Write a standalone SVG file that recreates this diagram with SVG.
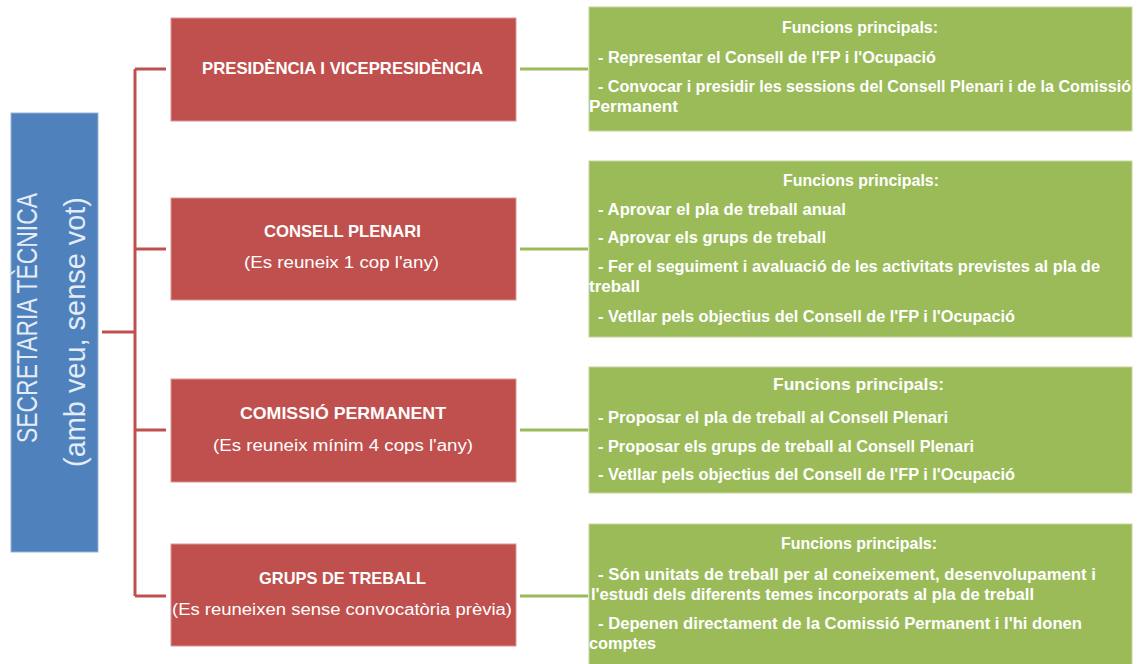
<svg xmlns="http://www.w3.org/2000/svg" width="1137" height="664" viewBox="0 0 1137 664">
<style>
.red{fill:#C0504D;stroke:#D99694;stroke-width:1}
.green{fill:#9BBB59;stroke:#C3D69B;stroke-width:1}
.blue{fill:#4F81BD;stroke:#95B3D7;stroke-width:1}
.h{font-family:"Liberation Sans",Arial,sans-serif;font-weight:bold;font-size:17px;fill:#fff}
.s{font-family:"Liberation Sans",Arial,sans-serif;font-size:16px;fill:#fff}
.g{font-family:"Liberation Sans",Arial,sans-serif;font-weight:bold;font-size:16px;fill:#fff}
.v{font-family:"Liberation Sans",Arial,sans-serif;font-size:29px;fill:#E4ECF7}
.rc{fill:none;stroke:#C0504D;stroke-width:3}
.gc{fill:none;stroke:#9BBB59;stroke-width:3}
</style>
<rect width="1137" height="664" fill="#fff"/>
<g id="connectors">
<path class="rc" d="M102,332 H135 M135,69 V596 M135,69 H166 M135,249 H166 M135,430 H166 M135,596 H166"/>
<path class="gc" d="M520,69 H588 M520,249 H588 M520,430 H588 M520,596 H588"/>
</g>
<g id="secretaria">
<rect class="blue" x="11" y="113" width="87" height="439"/>
<text class="v" transform="translate(37,318) rotate(-90)" text-anchor="middle" textLength="250" lengthAdjust="spacingAndGlyphs">SECRETARIA TÈCNICA</text>
<text class="v" transform="translate(85,332) rotate(-90)" text-anchor="middle" textLength="270" lengthAdjust="spacingAndGlyphs">(amb veu, sense vot)</text>
</g>
<g id="presidencia">
<rect class="red" x="171" y="18" width="345" height="103"/>
<text class="h" x="202" y="74" textLength="281" lengthAdjust="spacingAndGlyphs">PRESIDÈNCIA I VICEPRESIDÈNCIA</text>
</g>
<g id="consell-plenari">
<rect class="red" x="171" y="198" width="345" height="102"/>
<text class="h" x="264" y="237" textLength="157" lengthAdjust="spacingAndGlyphs">CONSELL PLENARI</text>
<text class="s" x="244" y="268" textLength="195" lengthAdjust="spacingAndGlyphs">(Es reuneix 1 cop l'any)</text>
</g>
<g id="comissio-permanent">
<rect class="red" x="171" y="379" width="345" height="103"/>
<text class="h" x="240" y="419" textLength="206" lengthAdjust="spacingAndGlyphs">COMISSIÓ PERMANENT</text>
<text class="s" x="213" y="451" textLength="260" lengthAdjust="spacingAndGlyphs">(Es reuneix mínim 4 cops l'any)</text>
</g>
<g id="grups-treball">
<rect class="red" x="171" y="544" width="345" height="102"/>
<text class="h" x="259" y="584" textLength="167" lengthAdjust="spacingAndGlyphs">GRUPS DE TREBALL</text>
<text class="s" x="172" y="615" textLength="340" lengthAdjust="spacingAndGlyphs">(Es reuneixen sense convocatòria prèvia)</text>
</g>
<g id="funcions-presidencia">
<rect class="green" x="589" y="7" width="543" height="124"/>
<text class="g" x="782" y="33" textLength="156" lengthAdjust="spacingAndGlyphs">Funcions principals:</text>
<text class="g" x="598" y="63" textLength="338" lengthAdjust="spacingAndGlyphs">- Representar el Consell de l'FP i l'Ocupació</text>
<text class="g" x="598" y="92" textLength="533" lengthAdjust="spacingAndGlyphs">- Convocar i presidir les sessions del Consell Plenari i de la Comissió</text>
<text class="g" x="589" y="112" textLength="89" lengthAdjust="spacingAndGlyphs">Permanent</text>
</g>
<g id="funcions-plenari">
<rect class="green" x="589" y="161" width="543" height="176"/>
<text class="g" x="783" y="186" textLength="156" lengthAdjust="spacingAndGlyphs">Funcions principals:</text>
<text class="g" x="598" y="215" textLength="248" lengthAdjust="spacingAndGlyphs">- Aprovar el pla de treball anual</text>
<text class="g" x="598" y="243" textLength="228" lengthAdjust="spacingAndGlyphs">- Aprovar els grups de treball</text>
<text class="g" x="598" y="272" textLength="502" lengthAdjust="spacingAndGlyphs">- Fer el seguiment i avaluació de les activitats previstes al pla de</text>
<text class="g" x="589" y="292" textLength="51" lengthAdjust="spacingAndGlyphs">treball</text>
<text class="g" x="598" y="322" textLength="417" lengthAdjust="spacingAndGlyphs">- Vetllar pels objectius del Consell de l'FP i l'Ocupació</text>
</g>
<g id="funcions-comissio">
<rect class="green" x="589" y="367" width="543" height="126"/>
<text class="g" x="773" y="390" font-size="17" textLength="171" lengthAdjust="spacingAndGlyphs">Funcions principals:</text>
<text class="g" x="598" y="423" textLength="350" lengthAdjust="spacingAndGlyphs">- Proposar el pla de treball al Consell Plenari</text>
<text class="g" x="598" y="452" textLength="376" lengthAdjust="spacingAndGlyphs">- Proposar els grups de treball al Consell Plenari</text>
<text class="g" x="598" y="480" textLength="417" lengthAdjust="spacingAndGlyphs">- Vetllar pels objectius del Consell de l'FP i l'Ocupació</text>
</g>
<g id="funcions-grups">
<rect class="green" x="589" y="524" width="543" height="150"/>
<text class="g" x="781" y="549" textLength="156" lengthAdjust="spacingAndGlyphs">Funcions principals:</text>
<text class="g" x="598" y="580" textLength="498" lengthAdjust="spacingAndGlyphs">- Són unitats de treball per al coneixement, desenvolupament i</text>
<text class="g" x="591" y="600" textLength="443" lengthAdjust="spacingAndGlyphs">l'estudi dels diferents temes incorporats al pla de treball</text>
<text class="g" x="598" y="629" textLength="484" lengthAdjust="spacingAndGlyphs">- Depenen directament de la Comissió Permanent i l'hi donen</text>
<text class="g" x="589" y="649" textLength="67" lengthAdjust="spacingAndGlyphs">comptes</text>
</g>
</svg>
